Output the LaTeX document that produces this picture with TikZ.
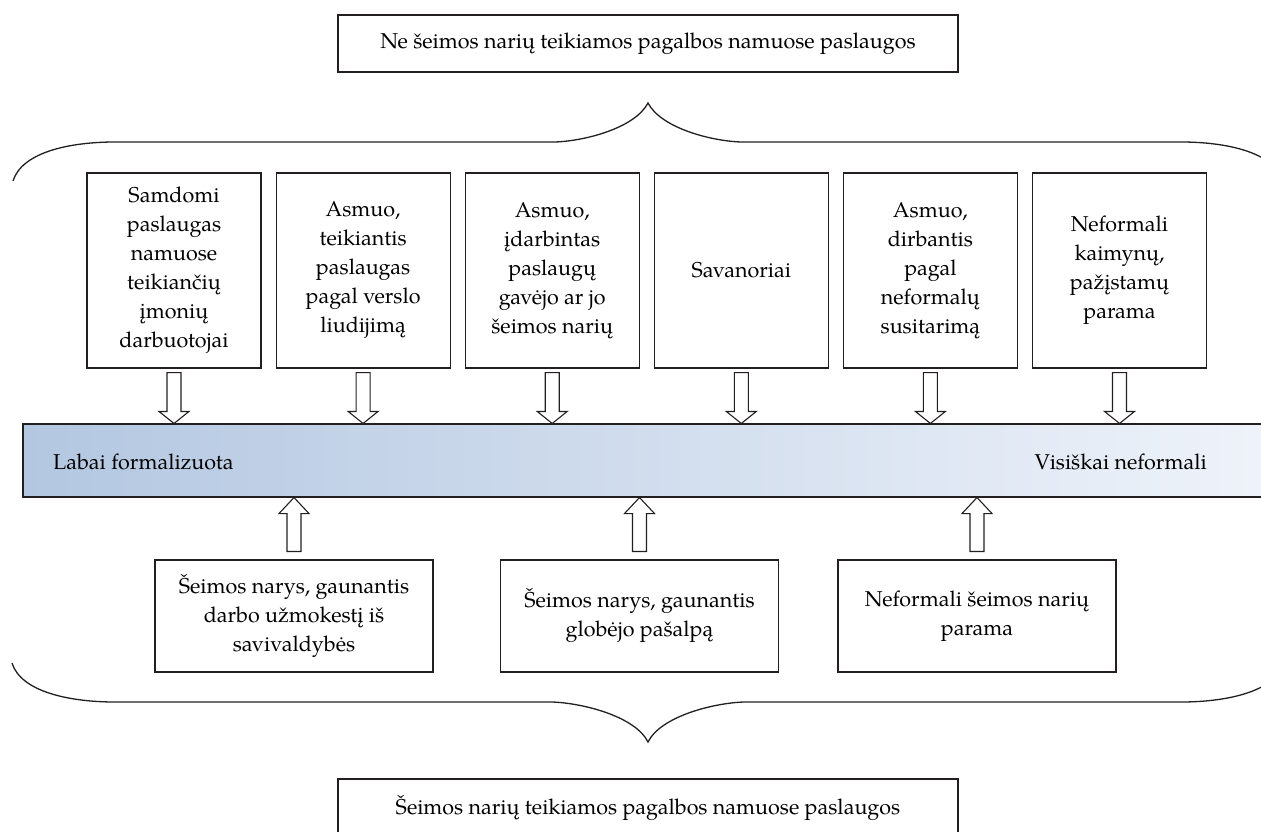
\documentclass[tikz,border=0pt]{standalone}
\usepackage{fontspec}
\setmainfont{TeX Gyre Pagella}
\usetikzlibrary{positioning, calc}

\definecolor{lineink}{HTML}{231F20}
\definecolor{barleft}{HTML}{B3C7E1}
\definecolor{barright}{HTML}{EFF3FA}

\tikzset{
  box/.style={draw=lineink, line width=1.1pt, align=center, inner sep=0pt,
    font=\fontsize{21.5}{29}\selectfont},
  topbox/.style={box, minimum width=620pt, minimum height=57pt},
  kind/.style={box, minimum width=174pt, minimum height=195pt},
  famkind/.style={box, minimum width=278pt, minimum height=112pt},
  scalebar/.style={draw=lineink, line width=1.1pt, minimum width=1250pt,
    minimum height=73pt, left color=barleft, right color=barright},
  scalelabel/.style={inner sep=0pt, font=\fontsize{21.5}{29}\selectfont},
  hollow/.style={draw=lineink, line width=1.1pt, fill=white, line join=miter},
  bracket/.style={draw=lineink, line width=1.3pt}
}

% hollow block arrow from #2 to #3, head length #1
\newcommand{\blockarrow}[3][12pt]{%
  \coordinate (ba-s) at (#2);
  \coordinate (ba-t) at (#3);
  \coordinate (ba-h) at ($(ba-t)!#1!(ba-s)$);
  \draw[hollow] ($(ba-s)!7pt!90:(ba-t)$) -- ($(ba-h)!7pt!90:(ba-t)$)
    -- ($(ba-h)!15pt!90:(ba-t)$) -- (ba-t) -- ($(ba-h)!15pt!-90:(ba-t)$)
    -- ($(ba-h)!7pt!-90:(ba-t)$) -- ($(ba-s)!7pt!-90:(ba-t)$) -- cycle;
}

\begin{document}
\begin{tikzpicture}[x=1pt, y=-1pt, node distance=14pt]
    \useasboundingbox (0,0) rectangle (1261,832);

    \node[topbox] (nonfamily) at (648,43.5) {Ne šeimos narių teikiamos pagalbos namuose paslaugos};

    % upper brace
    \draw[bracket] (13,181) .. controls (22,152) and (70,142) .. (115,142)
        -- (555,142) .. controls (585,141) and (635,128) .. (648,103)
        .. controls (661,128) and (711,141) .. (741,142)
        -- (1181,142) .. controls (1226,142) and (1274,152) .. (1283,181);

    % providers outside the family
    \node[kind] (hired) at (174,270.5) {Samdomi\\paslaugas\\namuose\\teikiančių\\įmonių\\darbuotojai};
    \node[kind, right=of hired] (licence) {Asmuo,\\teikiantis\\paslaugas\\pagal verslo\\liudijimą};
    \node[kind, right=of licence] (employed) {Asmuo,\\įdarbintas\\paslaugų\\gavėjo ar jo\\šeimos narių};
    \node[kind, right=of employed] (volunteers) {Savanoriai};
    \node[kind, right=of volunteers] (informal) {Asmuo,\\dirbantis\\pagal\\neformalų\\susitarimą};
    \node[kind, right=of informal] (neighbours) {Neformali\\kaimynų,\\pažįstamų\\parama};

    % scale of formality
    \node[scalebar] (scale) at (648,460.5) {};
    \node[scalelabel, anchor=west] (formal) at (53,462) {Labai formalizuota};
    \node[scalelabel, anchor=east] (nonformal) at (1207,462) {Visiškai neformali};

    \foreach \n in {hired, licence, employed, volunteers, informal, neighbours}
        \blockarrow{$(\n.south)+(0,4)$}{\n.south |- scale.north};

    % family members
    \node[famkind] (salary) at (294,616) {Šeimos narys, gaunantis\\darbo užmokestį iš\\savivaldybės};
    \node[famkind] (allowance) at (639.5,616) {Šeimos narys, gaunantis\\globėjo pašalpą};
    \node[famkind] (kin) at (977,616) {Neformali šeimos narių\\parama};

    \foreach \n in {salary, allowance, kin}
        \blockarrow[16pt]{$(\n.north)+(0,-8)$}{\n.north |- scale.south};

    % lower brace
    \draw[bracket] (12,663) .. controls (21,692) and (70,702) .. (115,702)
        -- (552,702) .. controls (582,703) and (635,716) .. (648,742)
        .. controls (661,716) and (714,703) .. (744,702)
        -- (1181,702) .. controls (1226,702) and (1275,692) .. (1284,663);

    \node[topbox] (family) at (648,807.5) {Šeimos narių teikiamos pagalbos namuose paslaugos};
\end{tikzpicture}
\end{document}
